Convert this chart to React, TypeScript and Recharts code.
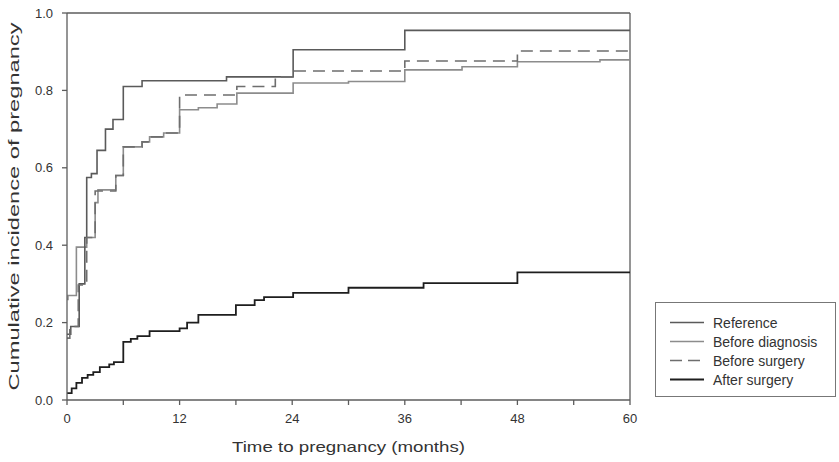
import React from 'react';
import { LineChart, Line, XAxis, YAxis, ReferenceLine, Label } from 'recharts';

// Axis ticks
const monthTicks = [0, 6, 12, 18, 24, 30, 36, 42, 48, 54, 60];
const labeledMonths = [0, 12, 24, 36, 48, 60];
const incidenceTicks = [0, 0.2, 0.4, 0.6, 0.8, 1.0];

// Reference group
const referenceMonths = [0, 0.4, 1.3, 1.9, 2.1, 2.6, 3.2, 4.1, 4.9, 6.0, 8.0, 17.0, 24.1, 36.0, 60];
const referenceIncidence = [0.17, 0.19, 0.3, 0.42, 0.575, 0.585, 0.645, 0.7, 0.725, 0.81, 0.825, 0.835, 0.905, 0.955, 0.955];

// Before diagnosis
const beforeDiagnosisMonths = [0, 0.1, 1.0, 2.1, 3.0, 3.3, 5.2, 6.0, 8.0, 8.8, 10.3, 12.0, 14.0, 16.0, 18.1, 24.1, 30.0, 36.0, 42.1, 48.0, 56.8, 60];
const beforeDiagnosisIncidence = [0.26, 0.27, 0.395, 0.42, 0.51, 0.543, 0.58, 0.654, 0.667, 0.68, 0.69, 0.75, 0.755, 0.765, 0.793, 0.819, 0.823, 0.853, 0.861, 0.874, 0.879, 0.879];

// Before surgery
const beforeSurgeryMonths = [0, 0.3, 1.2, 2.1, 3.0, 5.2, 6.0, 8.0, 8.8, 10.3, 12.0, 18.1, 22.2, 24.1, 36.0, 48.0, 60];
const beforeSurgeryIncidence = [0.16, 0.19, 0.297, 0.42, 0.54, 0.58, 0.654, 0.667, 0.68, 0.69, 0.788, 0.81, 0.835, 0.85, 0.876, 0.902, 0.902];

// After surgery
const afterSurgeryMonths = [0, 0.5, 1.0, 1.6, 2.2, 2.8, 3.5, 4.5, 5.0, 6.0, 6.8, 7.5, 8.8, 12.0, 12.8, 14.0, 18.0, 20.0, 21.0, 24.1, 30.0, 38.0, 48.0, 60];
const afterSurgeryIncidence = [0.018, 0.03, 0.044, 0.057, 0.065, 0.072, 0.085, 0.092, 0.098, 0.15, 0.158, 0.165, 0.178, 0.185, 0.2, 0.22, 0.245, 0.258, 0.266, 0.277, 0.29, 0.302, 0.33, 0.33];

const toPoints = (months: number[], incidence: number[]) =>
  months.map((t, i) => ({ t, v: incidence[i] }));

type Series = { name: string; data: { t: number; v: number }[]; color: string; dash?: string; width: number };

// Drawing order: lightest first, darkest last
const series: Series[] = [
  { name: 'Before diagnosis', data: toPoints(beforeDiagnosisMonths, beforeDiagnosisIncidence), color: '#8c8c8c', width: 1.6 },
  { name: 'Reference', data: toPoints(referenceMonths, referenceIncidence), color: '#5a5a5a', width: 1.6 },
  { name: 'Before surgery', data: toPoints(beforeSurgeryMonths, beforeSurgeryIncidence), color: '#6e6e6e', dash: '12 7', width: 1.6 },
  { name: 'After surgery', data: toPoints(afterSurgeryMonths, afterSurgeryIncidence), color: '#1e1e1e', width: 1.8 },
];

const legendOrder = ['Reference', 'Before diagnosis', 'Before surgery', 'After surgery'];

const FONT = 'Arial, "Liberation Sans", Helvetica, sans-serif';
const AXIS = '#5c5c5c';
const TEXT = '#333';

function LegendBox() {
  return (
    <div
      style={{
        position: 'absolute',
        left: 655,
        top: 302,
        width: 181,
        height: 95,
        border: '1px solid #777',
        boxSizing: 'border-box',
        background: '#fff',
        fontFamily: FONT,
        fontSize: 14,
        color: TEXT,
      }}
    >
      {legendOrder.map((name, i) => {
        const s = series.find((x) => x.name === name)!;
        return (
          <div key={name} style={{ position: 'absolute', left: 0, top: 10 + i * 19, height: 19, display: 'flex', alignItems: 'center' }}>
            <svg width={56} height={19} style={{ display: 'block' }}>
              <line x1={14} x2={48} y1={9.5} y2={9.5} stroke={s.color} strokeWidth={s.width} strokeDasharray={s.dash ? '12 6' : undefined} />
            </svg>
            <span style={{ marginLeft: 1, whiteSpace: 'nowrap' }}>{name}</span>
          </div>
        );
      })}
    </div>
  );
}

export default function App() {
  return (
    <div style={{ position: 'absolute', left: 0, top: 0, width: 839, height: 462, background: '#fff' }}>
      <LineChart width={839} height={462} margin={{ top: 13, right: 209, bottom: 7, left: 8 }}>
        <XAxis
          type="number"
          dataKey="t"
          domain={[0, 60]}
          ticks={monthTicks}
          allowDataOverflow
          tickFormatter={(t: number) => (labeledMonths.includes(t) ? String(t) : '')}
          stroke={AXIS}
          strokeWidth={1.3}
          tickSize={5}
          tickMargin={9}
          height={55}
          tick={{ fill: TEXT, fontSize: 13, fontFamily: FONT }}
        >
          <Label
            content={(props: any) => {
              const vb = props.viewBox || { x: 67, width: 563 };
              const cx = vb.x + vb.width / 2;
              return (
                <text x={cx} y={452} textAnchor="middle" fill={TEXT} fontSize={15} fontFamily={FONT} textLength={233} lengthAdjust="spacingAndGlyphs">
                  Time to pregnancy (months)
                </text>
              );
            }}
          />
        </XAxis>
        <YAxis
          type="number"
          domain={[0, 1]}
          ticks={incidenceTicks}
          tickFormatter={(v: number) => v.toFixed(1)}
          stroke={AXIS}
          strokeWidth={1.3}
          tickSize={5}
          tickMargin={9}
          width={59}
          tick={{ fill: TEXT, fontSize: 13, fontFamily: FONT }}
        >
          <Label
            content={(props: any) => {
              const vb = props.viewBox || { y: 13, height: 387 };
              const cy = vb.y + vb.height / 2;
              const cx = 13;
              return (
                <text
                  x={cx}
                  y={cy}
                  transform={`rotate(-90, ${cx}, ${cy})`}
                  textAnchor="middle"
                  dominantBaseline="central"
                  fill={TEXT}
                  fontSize={15}
                  fontFamily={FONT}
                  textLength={368}
                  lengthAdjust="spacingAndGlyphs"
                >
                  Cumulative incidence of pregnancy
                </text>
              );
            }}
          />
        </YAxis>
        <ReferenceLine y={1} stroke={AXIS} strokeWidth={1.3} ifOverflow="extendDomain" />
        <ReferenceLine x={60} stroke={AXIS} strokeWidth={1.3} ifOverflow="extendDomain" />
        {series.map((s) => (
          <Line
            key={s.name}
            data={s.data}
            dataKey="v"
            name={s.name}
            type="stepAfter"
            stroke={s.color}
            strokeWidth={s.width}
            strokeDasharray={s.dash}
            dot={false}
            activeDot={false}
            isAnimationActive={false}
          />
        ))}
      </LineChart>
      <LegendBox />
    </div>
  );
}
